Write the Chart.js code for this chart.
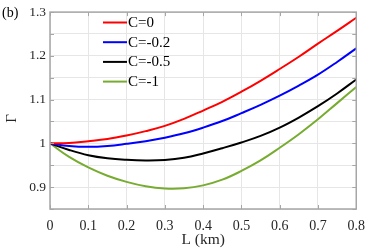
<!DOCTYPE html>
<html>
<head>
<meta charset="utf-8">
<script src="https://cdn.jsdelivr.net/npm/chart.js@4/dist/chart.umd.min.js"></script>
<style>
  html, body { margin: 0; padding: 0; background: #fff; }
  #wrap { width: 374px; height: 251px; }
</style>
</head>
<body>
<div id="wrap"><canvas id="gammaChart" width="374" height="251"></canvas></div>
<script>
// Gamma vs L for several C values
const lengths = [0, 0.05, 0.1, 0.15, 0.2, 0.25, 0.3, 0.35, 0.4, 0.45, 0.5, 0.55, 0.6, 0.65, 0.7, 0.75, 0.8];
const gammaC0 = [1, 1.001, 1.005, 1.010, 1.018, 1.028, 1.040, 1.056, 1.075, 1.095, 1.118, 1.143, 1.170, 1.198, 1.228, 1.257, 1.287];
const gammaC02 = [1, 0.994, 0.992, 0.994, 0.999, 1.005, 1.013, 1.023, 1.036, 1.051, 1.069, 1.088, 1.109, 1.132, 1.157, 1.186, 1.217];
const gammaC05 = [1, 0.985, 0.973, 0.966, 0.9625, 0.961, 0.962, 0.967, 0.977, 0.989, 1.002, 1.017, 1.036, 1.059, 1.085, 1.114, 1.146];
const gammaC1 = [1, 0.969, 0.945, 0.926, 0.912, 0.902, 0.897, 0.8975, 0.904, 0.917, 0.937, 0.961, 0.990, 1.021, 1.055, 1.092, 1.129];
const seriesLabels = ["C=0", "C=-0.2", "C=-0.5", "C=-1"];
const xTickLabels = ["0", "0.1", "0.2", "0.3", "0.4", "0.5", "0.6", "0.7", "0.8"];
const yTickLabels = ["0.9", "1", "1.1", "1.2", "1.3"];

const colors = ["#ff0000", "#0000ff", "#000000", "#77ac30"];
const serif = "'Liberation Serif', 'DejaVu Serif', serif";

const allSeries = [gammaC0, gammaC02, gammaC05, gammaC1];
const datasets = allSeries.map((vals, i) => ({
  label: seriesLabels[i],
  data: lengths.map((l, j) => ({ x: l, y: vals[j] })),
  borderColor: colors[i],
  backgroundColor: colors[i],
  borderWidth: 2,
  pointRadius: 0,
  tension: 0.4,
  fill: false
}));

// box, inside ticks, legend, y title and panel tag
const matlabBits = {
  id: "matlabBits",
  afterDatasetsDraw(chart) {
    const { ctx, chartArea: a, scales } = chart;
    ctx.save();
    ctx.strokeStyle = "#a6a6a6";
    ctx.lineWidth = 1.5;
    ctx.strokeRect(a.left, a.top, a.right - a.left, a.bottom - a.top);

    ctx.lineWidth = 1;
    ctx.beginPath();
    scales.y.ticks.forEach(t => {
      const py = Math.round(scales.y.getPixelForValue(t.value)) + 0.5;
      ctx.moveTo(a.left, py); ctx.lineTo(a.left + 4, py);
      ctx.moveTo(a.right, py); ctx.lineTo(a.right - 4, py);
    });
    scales.x.ticks.forEach(t => {
      const px = Math.round(scales.x.getPixelForValue(t.value)) + 0.5;
      ctx.moveTo(px, a.bottom); ctx.lineTo(px, a.bottom - 4);
      ctx.moveTo(px, a.top); ctx.lineTo(px, a.top + 4);
    });
    ctx.stroke();

    // legend
    ctx.font = "15px " + serif;
    ctx.textBaseline = "middle";
    chart.data.datasets.forEach((ds, i) => {
      const y = 22.5 + i * 19.7;
      ctx.strokeStyle = ds.borderColor;
      ctx.lineWidth = 2;
      ctx.beginPath();
      ctx.moveTo(103, y); ctx.lineTo(127, y);
      ctx.stroke();
      ctx.fillStyle = "#000";
      ctx.fillText(ds.label, 128, y + 0.5);
    });

    // y title
    ctx.save();
    ctx.translate(12, 118.5);
    ctx.rotate(-Math.PI / 2);
    ctx.textAlign = "center";
    ctx.fillStyle = "#262626";
    ctx.font = "15px " + serif;
    ctx.fillText("Γ", 0, 0);
    ctx.restore();

    ctx.font = "14px " + serif;
    ctx.fillStyle = "#000";
    ctx.textAlign = "left";
    ctx.fillText("(b)", 2, 13);
    ctx.restore();
  }
};

new Chart(document.getElementById("gammaChart").getContext("2d"), {
  type: "line",
  data: { datasets: datasets },
  options: {
    responsive: false,
    animation: false,
    layout: { padding: { top: 8, right: 11, left: 0, bottom: 0 } },
    plugins: { legend: { display: false }, tooltip: { enabled: false } },
    scales: {
      x: {
        type: "linear",
        min: 0, max: 0.8,
        afterFit: s => { s.height = 42; },
        ticks: {
          stepSize: 0.1,
          color: "#262626",
          font: { family: serif, size: 14 },
          padding: 9,
          callback: (v) => {
            const k = Math.round(v * 10);
            return Math.abs(v * 10 - k) < 1e-6 ? xTickLabels[k] : "";
          }
        },
        grid: { color: "#e6e6e6", drawTicks: false },
        border: { display: false },
        title: { display: true, text: "L (km)", color: "#262626", font: { family: serif, size: 15.5 }, padding: { top: 0, bottom: 2 } }
      },
      y: {
        min: 0.85, max: 1.3,
        afterFit: s => { s.width = 50; },
        afterBuildTicks: s => {
          s.ticks = [];
          for (let k = 17; k <= 26; k++) s.ticks.push({ value: k / 20 });
        },
        ticks: {
          color: "#262626",
          font: { family: serif, size: 13.5 },
          padding: 4,
          callback: (v) => {
            const k = Math.round(v * 10);
            return (Math.abs(v * 10 - k) < 1e-6 && k >= 9) ? yTickLabels[k - 9] : "";
          }
        },
        grid: { color: "#e6e6e6", drawTicks: false },
        border: { display: false }
      }
    }
  },
  plugins: [matlabBits]
});
</script>
</body>
</html>
